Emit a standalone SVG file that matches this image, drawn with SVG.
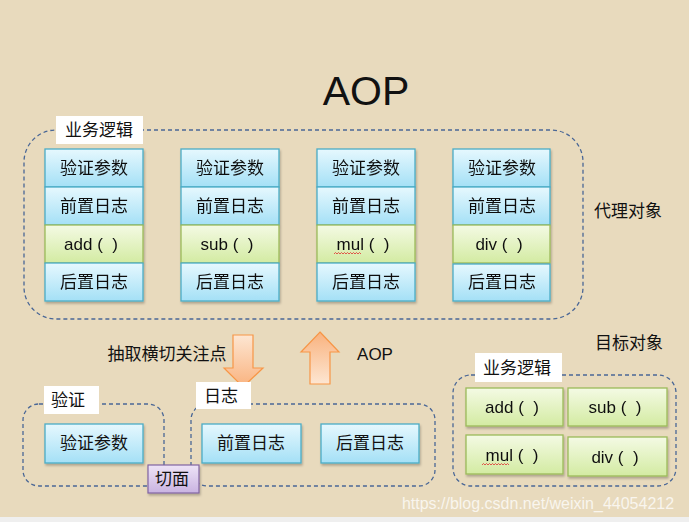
<svg xmlns="http://www.w3.org/2000/svg" width="689" height="522" viewBox="0 0 689 522">
<defs>
<linearGradient id="gb" x1="0" y1="0" x2="0" y2="1"><stop offset="0" stop-color="#E6F8FE"/><stop offset="1" stop-color="#A4E0F6"/></linearGradient>
<linearGradient id="gg" x1="0" y1="0" x2="0" y2="1"><stop offset="0" stop-color="#F4FAE4"/><stop offset="1" stop-color="#D3EBA2"/></linearGradient>
<linearGradient id="gp" x1="0" y1="0" x2="0" y2="1"><stop offset="0" stop-color="#EEE4F7"/><stop offset="1" stop-color="#C9B3E1"/></linearGradient>
<linearGradient id="go" x1="0" y1="0" x2="0" y2="1"><stop offset="0" stop-color="#FDE6D2"/><stop offset="1" stop-color="#F9B27E"/></linearGradient>
<linearGradient id="go2" x1="0" y1="1" x2="0" y2="0"><stop offset="0" stop-color="#FDE6D2"/><stop offset="1" stop-color="#F9B27E"/></linearGradient>
<filter id="sh" x="-10%" y="-10%" width="130%" height="140%"><feDropShadow dx="1" dy="2" stdDeviation="1.2" flood-color="#000" flood-opacity="0.25"/></filter>
</defs>
<style>
text{font-family:"Liberation Sans","Noto Sans CJK SC",sans-serif;fill:#111;font-size:17px;text-anchor:middle;dominant-baseline:central}
.p{white-space:pre}
.b{fill:url(#gb);stroke:#4BACC6;stroke-width:1.3}
.g{fill:url(#gg);stroke:#9BBB59;stroke-width:1.3}
.d{fill:none;stroke:#4A6796;stroke-width:1.3;stroke-dasharray:4 3}
.w{fill:#fff}
.sq{fill:none;stroke:#E03030;stroke-width:0.8}
</style>
<rect x="0" y="0" width="689" height="522" fill="#E8DABD"/>
<rect x="0" y="517" width="689" height="5" fill="#EFEFEF"/>
<text x="366" y="91" style="font-size:41px">AOP</text>

<g id="proxy">
<rect class="d" x="24" y="130" width="559" height="189" rx="32"/>
<rect class="w" x="56" y="116" width="87" height="28"/>
<text x="99" y="130">业务逻辑</text>
</g>

<g id="col1" filter="url(#sh)">
<rect class="b" x="45" y="149" width="98" height="38"/><text x="94" y="168">验证参数</text>
<rect class="b" x="45" y="187" width="98" height="38"/><text x="94" y="206">前置日志</text>
<rect class="g" x="45" y="225" width="98" height="38"/><text class="p" x="91" y="244" xml:space="preserve">add (  )</text>
<rect class="b" x="45" y="263" width="98" height="38"/><text x="94" y="282">后置日志</text>
</g>
<g id="col2" filter="url(#sh)">
<rect class="b" x="181" y="149" width="98" height="38"/><text x="230" y="168">验证参数</text>
<rect class="b" x="181" y="187" width="98" height="38"/><text x="230" y="206">前置日志</text>
<rect class="g" x="181" y="225" width="98" height="38"/><text class="p" x="227" y="244" xml:space="preserve">sub (  )</text>
<rect class="b" x="181" y="263" width="98" height="38"/><text x="230" y="282">后置日志</text>
</g>
<g id="col3" filter="url(#sh)">
<rect class="b" x="317" y="149" width="98" height="38"/><text x="366" y="168">验证参数</text>
<rect class="b" x="317" y="187" width="98" height="38"/><text x="366" y="206">前置日志</text>
<rect class="g" x="317" y="225" width="98" height="38"/><text class="p" x="363" y="244" xml:space="preserve">mul (  )</text>
<path class="sq" d="M334 254 l1.5 -1.5 l1.5 1.5 l1.5 -1.5 l1.5 1.5 l1.5 -1.5 l1.5 1.5 l1.5 -1.5 l1.5 1.5 l1.5 -1.5 l1.5 1.5 l1.5 -1.5 l1.5 1.5 l1.5 -1.5 l1.5 1.5 l1.5 -1.5 l1.5 1.5 l1.5 -1.5 l1.5 1.5"/>
<rect class="b" x="317" y="263" width="98" height="38"/><text x="366" y="282">后置日志</text>
</g>
<g id="col4" filter="url(#sh)">
<rect class="b" x="453" y="149" width="97" height="38"/><text x="502" y="168">验证参数</text>
<rect class="b" x="453" y="187" width="97" height="38"/><text x="502" y="206">前置日志</text>
<rect class="g" x="453" y="225" width="97" height="38"/><text class="p" x="499" y="244" xml:space="preserve">div (  )</text>
<rect class="b" x="453" y="264" width="97" height="37"/><text x="502" y="282">后置日志</text>
</g>
<text x="628" y="211">代理对象</text>

<g id="arrows">
<path d="M233 335 H253 V368 H263 L243 387 L224 368 H233 Z" fill="url(#go)" stroke="#F79646" stroke-width="1.2"/>
<path d="M320 332 L339 352 H330 V384 H310 V352 H301 Z" fill="url(#go2)" stroke="#F79646" stroke-width="1.2"/>
</g>
<text x="167" y="354">抽取横切关注点</text>
<text x="375" y="354">AOP</text>
<text x="629" y="343">目标对象</text>

<g id="verify">
<rect class="d" x="23" y="404" width="141" height="82" rx="16"/>
<rect class="w" x="44" y="386" width="55" height="28"/>
<text x="68" y="400">验证</text>
<rect class="b" filter="url(#sh)" x="45" y="424" width="98" height="39"/><text x="94" y="443">验证参数</text>
</g>
<g id="log">
<rect class="d" x="191" y="404" width="244" height="82" rx="16"/>
<rect class="w" x="196" y="382" width="55" height="27"/>
<text x="221" y="396">日志</text>
<rect class="b" filter="url(#sh)" x="202" y="424" width="99" height="39"/><text x="251" y="443">前置日志</text>
<rect class="b" filter="url(#sh)" x="321" y="424" width="98" height="39"/><text x="370" y="443">后置日志</text>
</g>
<g id="aspect">
<rect x="148" y="465" width="51" height="28" fill="url(#gp)" stroke="#8064A2" stroke-width="1.2" filter="url(#sh)"/>
<text x="172" y="479">切面</text>
</g>

<g id="target">
<rect class="d" x="453" y="375" width="223" height="111" rx="18"/>
<rect class="w" x="475" y="353" width="87" height="29"/>
<text x="517" y="368">业务逻辑</text>
<g filter="url(#sh)">
<rect class="g" x="466" y="388" width="97" height="38"/><text class="p" x="512" y="407" xml:space="preserve">add (  )</text>
<rect class="g" x="568" y="388" width="99" height="38"/><text class="p" x="615" y="407" xml:space="preserve">sub (  )</text>
<rect class="g" x="466" y="435" width="97" height="39"/><text class="p" x="512" y="455" xml:space="preserve">mul (  )</text>
<rect class="g" x="568" y="437" width="99" height="39"/><text class="p" x="615" y="457" xml:space="preserve">div (  )</text>
</g>
<path class="sq" d="M482 465 l1.5 -1.5 l1.5 1.5 l1.5 -1.5 l1.5 1.5 l1.5 -1.5 l1.5 1.5 l1.5 -1.5 l1.5 1.5 l1.5 -1.5 l1.5 1.5 l1.5 -1.5 l1.5 1.5 l1.5 -1.5 l1.5 1.5 l1.5 -1.5 l1.5 1.5 l1.5 -1.5 l1.5 1.5"/>
</g>
<text x="538" y="503" style="font-size:16px;fill:#fff;fill-opacity:0.75">https://blog.csdn.net/weixin_44054212</text>
</svg>
